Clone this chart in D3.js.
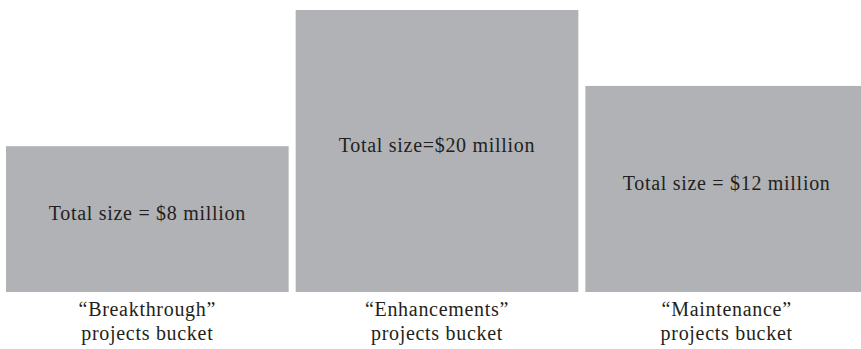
<!DOCTYPE html>
<html>
<head>
<meta charset="utf-8">
<script src="https://cdn.jsdelivr.net/npm/d3@7"></script>
<style>
  html, body { margin: 0; padding: 0; background: #fff; }
  svg { display: block; }
</style>
</head>
<body>
<svg id="chart" width="861" height="349"></svg>
<script>
// ---- data ----
const categories = ["Breakthrough", "Enhancements", "Maintenance"];
const totals = [8, 20, 12]; // $ million
const boxLabels = ["Total size = $8 million", "Total size=$20 million", "Total size = $12 million"];
const bucketLine1 = ["\u201cBreakthrough\u201d", "\u201cEnhancements\u201d", "\u201cMaintenance\u201d"];
const bucketLine2 = ["projects bucket", "projects bucket", "projects bucket"];

// ---- layout ----
const baseY = 292, topY = 10;
const svg = d3.select("#chart");

const x = d3.scaleBand().domain(categories).range([6, 868]).paddingInner(0.0242).paddingOuter(0);
// illustrative (non-linear) box sizing
const h = d3.scaleLog().domain([3, d3.max(totals)]).range([0, baseY - topY]);

const data = categories.map((c, i) => ({ c, v: totals[i], lab: boxLabels[i], l1: bucketLine1[i], l2: bucketLine2[i] }));

const g = svg.append("g");
g.selectAll("rect").data(data).join("rect")
  .attr("x", d => x(d.c))
  .attr("y", d => baseY - h(d.v))
  .attr("width", x.bandwidth())
  .attr("height", d => h(d.v))
  .attr("fill", "#b1b2b6");

const font = "'Liberation Serif', 'Times New Roman', serif";
g.selectAll("text.inbox").data(data).join("text")
  .attr("class", "inbox")
  .attr("x", d => x(d.c) + x.bandwidth() / 2)
  .attr("y", d => baseY - h(d.v) / 2 + 1)
  .attr("text-anchor", "middle")
  .attr("font-family", font)
  .attr("font-size", 20)
  .attr("letter-spacing", 0.7)
  .attr("fill", "#231f20")
  .text(d => d.lab);

const lab = g.selectAll("text.bucket").data(data).join("text")
  .attr("class", "bucket")
  .attr("text-anchor", "middle")
  .attr("font-family", font)
  .attr("font-size", 20)
  .attr("letter-spacing", 0.7)
  .attr("fill", "#231f20");
lab.append("tspan")
  .attr("x", d => x(d.c) + x.bandwidth() / 2)
  .attr("y", 316)
  .text(d => d.l1);
lab.append("tspan")
  .attr("x", d => x(d.c) + x.bandwidth() / 2)
  .attr("y", 340)
  .text(d => d.l2);
</script>
</body>
</html>
